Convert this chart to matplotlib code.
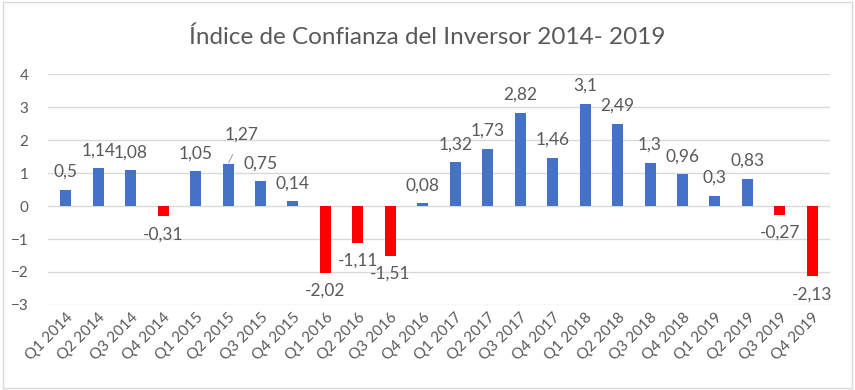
import matplotlib
matplotlib.use('Agg')
import matplotlib.pyplot as plt
from matplotlib.patches import Rectangle

plt.rcParams['font.family'] = ['Lato', 'DejaVu Sans']

quarters = ['Q1 2014', 'Q2 2014', 'Q3 2014', 'Q4 2014',
            'Q1 2015', 'Q2 2015', 'Q3 2015', 'Q4 2015',
            'Q1 2016', 'Q2 2016', 'Q3 2016', 'Q4 2016',
            'Q1 2017', 'Q2 2017', 'Q3 2017', 'Q4 2017',
            'Q1 2018', 'Q2 2018', 'Q3 2018', 'Q4 2018',
            'Q1 2019', 'Q2 2019', 'Q3 2019', 'Q4 2019']
values = [0.5, 1.14, 1.08, -0.31,
          1.05, 1.27, 0.75, 0.14,
          -2.02, -1.11, -1.51, 0.08,
          1.32, 1.73, 2.82, 1.46,
          3.1, 2.49, 1.3, 0.96,
          0.3, 0.83, -0.27, -2.13]
title = 'Índice de Confianza del Inversor 2014- 2019'

txt = '#595959'
blue = '#4472C4'
red = '#FF0000'

fig = plt.figure(figsize=(8.55, 3.90), dpi=100)
ax = fig.add_axes([0.056, 0.218, 0.915, 0.592])

x = range(len(values))
colors = [blue if v >= 0 else red for v in values]
ax.bar(x, values, width=0.34, color=colors, zorder=3)

ax.set_ylim(-3, 4)
ax.set_xlim(-0.55, len(values) - 0.45)
ax.set_yticks(range(-3, 5))
ax.grid(axis='y', color='#D9D9D9', linewidth=1, zorder=0)
for s in ax.spines.values():
    s.set_visible(False)
ax.tick_params(length=0, colors=txt, labelsize=11)
ax.tick_params(axis='y', pad=14)
ax.set_xticks(list(x))
ax.set_xticklabels(quarters, rotation=45, ha='right', rotation_mode='anchor')

for i, v in enumerate(values):
    lab = f'{v:g}'.replace('.', ',')
    if i == 5:
        ax.annotate(lab, xy=(i, v), xytext=(10, 21), textcoords='offset points',
                    ha='center', va='center', fontsize=12.5, color=txt,
                    arrowprops=dict(arrowstyle='-', color='#A6A6A6', lw=0.8,
                                    shrinkA=7, shrinkB=1))
    elif v >= 0:
        ax.annotate(lab, xy=(i, v), xytext=(0, 13), textcoords='offset points',
                    ha='center', va='center', fontsize=12.5, color=txt)
    else:
        ax.annotate(lab, xy=(i, v), xytext=(0, -13), textcoords='offset points',
                    ha='center', va='center', fontsize=12.5, color=txt)

fig.text(0.5, 0.905, title, ha='center', va='center', fontsize=17.5, color=txt)
fig.patches.append(Rectangle((0.003, 0.004), 0.993, 0.99, transform=fig.transFigure,
                             fill=False, edgecolor='#D9D9D9', linewidth=1))

fig.savefig('out.png', dpi=100)
